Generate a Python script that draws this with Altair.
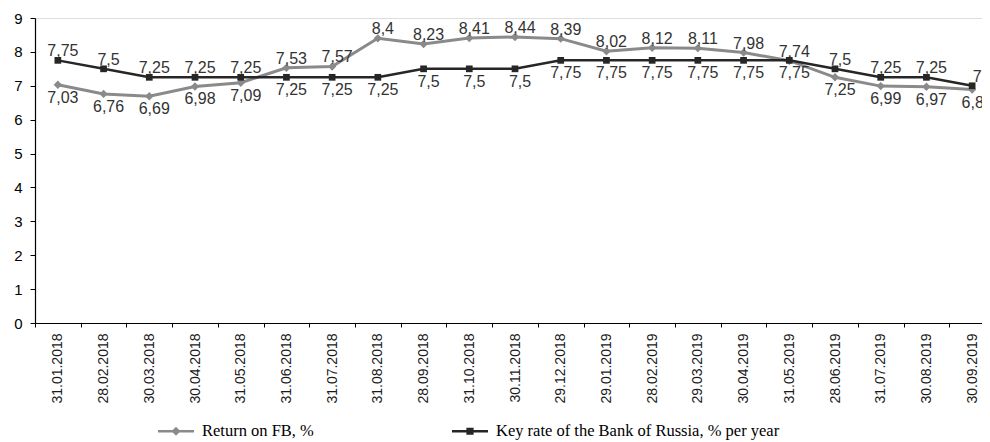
import altair as alt
import pandas as pd

dates = ["31.01.2018", "28.02.2018", "30.03.2018", "30.04.2018", "31.05.2018",
         "31.06.2018", "31.07.2018", "31.08.2018", "28.09.2018", "31.10.2018",
         "30.11.2018", "29.12.2018", "29.01.2019", "28.02.2019", "29.03.2019",
         "30.04.2019", "31.05.2019", "28.06.2019", "31.07.2019", "30.08.2019",
         "30.09.2019"]
fb_return = [7.03, 6.76, 6.69, 6.98, 7.09, 7.53, 7.57, 8.4, 8.23, 8.41, 8.44,
             8.39, 8.02, 8.12, 8.11, 7.98, 7.74, 7.25, 6.99, 6.97, 6.89]
key_rate = [7.75, 7.5, 7.25, 7.25, 7.25, 7.25, 7.25, 7.25, 7.5, 7.5, 7.5,
            7.75, 7.75, 7.75, 7.75, 7.75, 7.75, 7.5, 7.25, 7.25, 7]
series_names = ["Return on FB, %", "Key rate of the Bank of Russia, % per year"]
y_ticks = [0, 1, 2, 3, 4, 5, 6, 7, 8, 9]

FB_COLOR = "#8a8a8a"
KEY_COLOR = "#262626"


def fmt(v):
    return f"{v:g}".replace(".", ",")


rows = []
for d, f, k in zip(dates, fb_return, key_rate):
    fb_above = f + 0.01 >= k
    rows.append({"date": d, "series": series_names[0], "value": f,
                 "label": fmt(f), "side": "above" if fb_above else "below"})
    rows.append({"date": d, "series": series_names[1], "value": k,
                 "label": fmt(k), "side": "below" if fb_above else "above"})
df = pd.DataFrame(rows)

x_enc = alt.X(
    "date:N", sort=dates, title=None,
    scale=alt.Scale(type="band", range=[0, 960], paddingInner=0, paddingOuter=0),
    axis=alt.Axis(tickBand="extent", labelAngle=270, labelAlign="right",
                  labelBaseline="middle", tickSize=4, labelPadding=6,
                  domainColor="#000000", tickColor="#000000", domainWidth=1.2,
                  labelFont="Liberation Sans", labelFontSize=14,
                  labelColor="#1a1a1a", grid=False),
)
y_enc = alt.Y(
    "value:Q", title=None,
    scale=alt.Scale(domain=[0, 9], nice=False, zero=True),
    axis=alt.Axis(values=y_ticks, tickSize=5, labelPadding=8,
                  domainColor="#000000", tickColor="#000000", domainWidth=1.2,
                  labelFont="Liberation Sans", labelFontSize=15,
                  labelColor="#000000", grid=False),
)

base = alt.Chart(df).encode(x=x_enc, y=y_enc)


def series_layers(name, color, shape, msize, width):
    sub = base.transform_filter(alt.datum.series == name)
    line = sub.mark_line(color=color, strokeWidth=width)
    pts = sub.mark_point(filled=True, shape=shape, size=msize, color=color,
                         opacity=1)
    return [line, pts]


layers = []
layers += series_layers(series_names[0], FB_COLOR, "diamond", 70, 3)
layers += series_layers(series_names[1], KEY_COLOR, "square", 45, 2.5)

text_above = base.transform_filter(alt.datum.side == "above").mark_text(
    font="Liberation Sans", fontSize=16, color="#333333", dx=5, dy=-4,
    baseline="alphabetic", align="center"
).encode(text="label:N")
text_below = base.transform_filter(alt.datum.side == "below").mark_text(
    font="Liberation Sans", fontSize=16, color="#333333", dx=5, dy=18,
    baseline="alphabetic", align="center"
).encode(text="label:N")
layers += [text_above, text_below]

fb_path = "M-1,-0.07H1V0.07H-1Z M0,-0.25L0.25,0L0,0.25L-0.25,0Z"
key_path = "M-1,-0.07H1V0.07H-1Z M-0.2,-0.2H0.2V0.2H-0.2Z"

legend_layer = alt.Chart(df).transform_filter("false").mark_point(
    filled=True, opacity=1
).encode(
    x=x_enc, y=y_enc,
    color=alt.Color("series:N", scale=alt.Scale(domain=series_names,
                                                  range=[FB_COLOR, KEY_COLOR])),
    shape=alt.Shape("series:N",
                    scale=alt.Scale(domain=series_names, range=[fb_path, key_path]),
                    legend=alt.Legend(title=None, orient="none", legendX=123,
                                      legendY=395, direction="horizontal",
                                      symbolSize=1296, symbolStrokeWidth=0,
                                      symbolOpacity=1, labelOffset=8,
                                      columnPadding=138,
                                      labelFont="Liberation Serif",
                                      labelFontSize=16.5, labelColor="#000000",
                                      labelLimit=400)),
)
layers.append(legend_layer)

chart = alt.layer(*layers).properties(
    width=947, height=305,
    autosize=alt.AutoSizeParams(type="none"),
    padding={"left": 27, "top": 10, "right": 0, "bottom": 119},
).configure_view(stroke=None).configure(background="white")

chart.save("out.html", embed_options={"renderer": "svg", "actions": False})
